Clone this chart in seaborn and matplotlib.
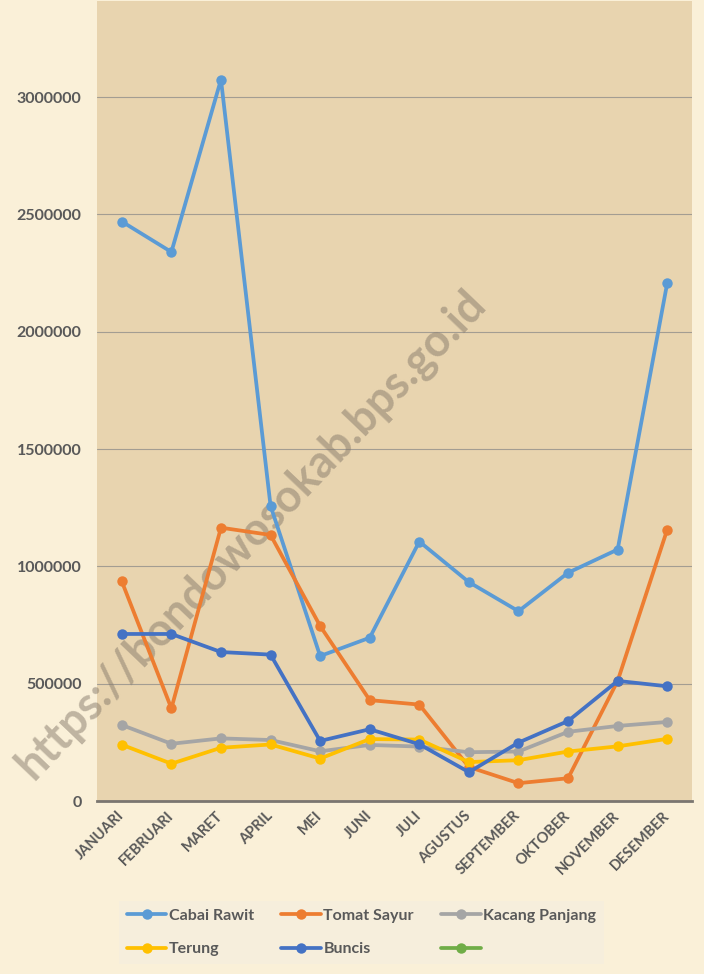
import numpy as np
import pandas as pd
import seaborn as sns
import matplotlib.pyplot as plt
from matplotlib.lines import Line2D

# data
bulan = ['JANUARI', 'FEBRUARI', 'MARET', 'APRIL', 'MEI', 'JUNI', 'JULI',
         'AGUSTUS', 'SEPTEMBER', 'OKTOBER', 'NOVEMBER', 'DESEMBER']
cabai_rawit = [2470000, 2340000, 3075000, 1258000, 618000, 696000, 1106000,
               933000, 809000, 973000, 1072000, 2208000]
tomat_sayur = [936000, 395000, 1165000, 1134000, 746000, 430000, 411000,
               145000, 76000, 97000, 512000, 1157000]
kacang_panjang = [324000, 244000, 267000, 260000, 212000, 239000, 232000,
                  208000, 211000, 295000, 320000, 337000]
terung = [240000, 159000, 227000, 241000, 181000, 264000, 262000,
          166000, 174000, 211000, 233000, 265000]
buncis = [712000, 712000, 635000, 624000, 256000, 306000, 242000,
          123000, 249000, 341000, 512000, 489000]

series = ['Cabai Rawit', 'Tomat Sayur', 'Kacang Panjang', 'Terung', 'Buncis']
colors = ['#5B9BD5', '#ED7D31', '#A5A5A5', '#FFC000', '#4472C4']
empty_color = '#70AD47'  # the unnamed, empty series in the legend

df = pd.DataFrame({
    'x': np.tile(np.arange(len(bulan)), len(series)),
    'komoditas': np.repeat(series, len(bulan)),
    'nilai': cabai_rawit + tomat_sayur + kacang_panjang + terung + buncis,
})

sns.set_theme(style='white')
plt.rcParams['font.family'] = ['Lato', 'DejaVu Sans']
text_color = '#595959'

fig = plt.figure(figsize=(7.04, 9.74), dpi=100, facecolor='#FAF0D8')
ax = fig.add_axes([0.1378, 0.1776, 0.8452, 0.8214])
ax.set_facecolor('#E8D4AF')

sns.lineplot(data=df, x='x', y='nilai', hue='komoditas', hue_order=series,
             palette=colors, marker='o', markersize=7.5, markeredgewidth=0,
             linewidth=2.7, sort=False, legend=False, ax=ax, zorder=3)

# watermark, behind the lines
ax.text(0.357, 0.451, 'https://bondowosokab.bps.go.id', transform=fig.transFigure,
        rotation=46.3, ha='center', va='center', fontsize=32.5, fontweight='bold',
        color='#85796A', alpha=0.5, clip_on=False, zorder=1)

ax.set_xlim(-0.5, 11.5)
ax.set_ylim(0, 3410000)
ax.set_yticks(np.arange(0, 3000001, 500000))
ax.set_yticklabels([f'{v:.0f}' for v in np.arange(0, 3000001, 500000)],
                   fontsize=11.5, fontweight='bold', color=text_color)
ax.set_xticks(range(len(bulan)))
ax.set_xticklabels(bulan, rotation=45, ha='right', va='center', rotation_mode='anchor',
                   fontsize=10.5, fontweight='bold', color=text_color)
ax.tick_params(axis='y', length=0, pad=11)
ax.tick_params(axis='x', length=0, pad=9)
ax.set_xlabel('')
ax.set_ylabel('')

ax.grid(axis='y', color='#A39D92', linewidth=0.8, zorder=0)
ax.set_axisbelow(True)
for s in ['top', 'left', 'right']:
    ax.spines[s].set_visible(False)
ax.spines['bottom'].set_color('#7A7670')
ax.spines['bottom'].set_linewidth(2)

# legend filled row by row like the original
handles = [Line2D([], [], color=c, lw=2.7, marker='o', markersize=7.5, markeredgewidth=0)
           for c in colors + [empty_color]]
labels = series + ['']
order = [0, 3, 1, 4, 2, 5]
leg = fig.legend([handles[i] for i in order], [labels[i] for i in order],
                 ncol=3, loc='center', bbox_to_anchor=(0.5135, 0.0426),
                 frameon=True, facecolor='#F6EEDC', edgecolor='none', framealpha=1,
                 prop={'size': 11.5, 'weight': 'bold'}, labelcolor=text_color,
                 handlelength=2.5, handletextpad=0.15, columnspacing=1.7,
                 labelspacing=1.2, borderpad=0.5, fancybox=False)

plt.savefig('out.png', dpi=100, facecolor=fig.get_facecolor())
